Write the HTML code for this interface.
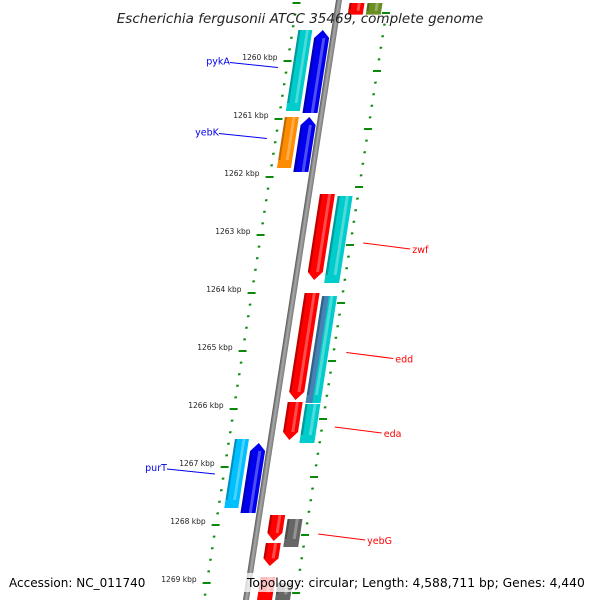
<!DOCTYPE html>
<html><head><meta charset="utf-8"><style>
html,body{margin:0;padding:0;background:#fff;overflow:hidden;}
svg{display:block;font-family:"DejaVu Sans","Liberation Sans",sans-serif;}
</style></head><body>
<svg id="chart" width="600" height="600" viewBox="0 0 600 600">
<defs>
<linearGradient id="bb" x1="0" x2="1" y1="0" y2="0"><stop offset="0" stop-color="#555"/><stop offset="0.5" stop-color="#aaa"/><stop offset="1" stop-color="#777"/></linearGradient>
</defs>
<g id="skew" transform="matrix(1,0,-0.155,1,339,0)"></g>
<g id="labels"></g>
<text x="300" y="23" text-anchor="middle" font-size="13.5" font-style="italic" fill="#222">Escherichia fergusonii ATCC 35469, complete genome</text>
<rect x="4" y="573" width="142" height="19" fill="#fff" opacity="0.75"/>
<text x="9" y="587" font-size="12" fill="#000">Accession: NC_011740</text>
<rect x="244" y="573" width="352" height="19" fill="#fff" opacity="0.75"/>
<text x="247" y="587" font-size="12.3" fill="#000">Topology: circular; Length: 4,588,711 bp; Genes: 4,440</text>
</svg>
<script>
const geneNames=["top-red","top-olive","pykA-cyan","pykA","yebK","yebK-blue","zwf","zwf-cyan","edd","edd-cyan","eda","eda-cyan","purT-cyan","purT","yebG","yebG-gray","yebG-red2","bottom-red","bottom-gray"];
const geneStart=[1259.0,1259.0,1259.466,1259.466,1260.966,1260.966,1262.293,1262.328,1264.0,1264.052,1265.879,1265.914,1266.517,1266.586,1267.828,1267.897,1268.31,1268.897,1269.0];
const geneEnd=[1259.2,1259.2,1260.862,1260.897,1261.845,1261.914,1263.776,1263.828,1265.845,1265.897,1266.534,1266.586,1267.707,1267.793,1268.276,1268.379,1268.707,1269.5,1269.5];
const geneLane=["R1","R2","L2","L1","L2","L1","R1","R2","R1","R2","R1","R2","L2","L1","R1","R2","R1","R1","R2"];
const geneDir=[0,0,0,1,0,1,-1,0,-1,0,-1,0,0,1,-1,0,-1,0,0];
const geneColor=["#ff0000","#6b8e23","#00cccc","#0000ee","#ff8c00","#0000ee","#ff0000","#00cccc","#ff0000","#00cccc","#ff0000","#00cccc","#00bfff","#0000ee","#ff0000","#666666","#ff0000","#ff0000","#666666"];
const geneLabels=["pykA","yebK","zwf","edd","eda","purT","yebG"];
const labelGene=[3,4,6,8,10,13,14];
const labelColor=["#0000ee","#0000ee","#ff0000","#ff0000","#ff0000","#0000ee","#ff0000"];
const tickKbp=[1260,1261,1262,1263,1264,1265,1266,1267,1268,1269];

const NS="http://www.w3.org/2000/svg";
const Y=k=>61+(k-1260)*58;
const BX=y=>339-0.155*y;
const laneX={L2:[-36,-22],L1:[-19,-4],R1:[11,26],R2:[29,44]};
const sk=document.getElementById('skew'), lb=document.getElementById('labels');
function mk(tag,attrs,parent){const e=document.createElementNS(NS,tag);for(const k in attrs)e.setAttribute(k,attrs[k]);parent.appendChild(e);return e;}

const bb=mk('rect',{x:-3,y:-20,width:6,height:640,fill:'url(#bb)'},sk);



for(let k=1259;k<=1269.9;k+=0.2){
  const y=Y(k);const major=Math.abs(k-Math.round(k))<0.01;
  const d=mk('rect',{x:major?-46:-43,y:y-1,width:major?8:2.5,height:2,fill:'#0a8a0a'},sk);
  
  
  const y2=y+10;
  const d2=mk('rect',{x:major?45:48,y:y2-1,width:major?8:2.5,height:2,fill:'#0a8a0a'},sk);
  
  
}

geneNames.forEach((n,i)=>{
  const y0=Y(geneStart[i]),y1=Math.min(Y(geneEnd[i]),600);const [a,b]=laneX[geneLane[i]];
  const w=b-a,h=Math.min(8,(y1-y0)/3);let pts;
  if(geneDir[i]===1) pts=`${a},${y0+h} ${(a+b)/2},${y0} ${b},${y0+h} ${b},${y1} ${a},${y1}`;
  else if(geneDir[i]===-1) pts=`${a},${y0} ${b},${y0} ${b},${y1-h} ${(a+b)/2},${y1} ${a},${y1-h}`;
  else pts=`${a},${y0} ${b},${y0} ${b},${y1} ${a},${y1}`;
  const p=mk('polygon',{points:pts,fill:geneColor[i]},sk);
  
  
  if(n==='edd-cyan'){const s=mk('rect',{x:a,y:y0,width:w*0.45,height:y1-y0,fill:'#4682b4'},sk);
    
    }
  const hl=mk('rect',{x:a+w*0.55,y:y0+(geneDir[i]===1?h:0),width:w*0.2,height:Math.max(0,y1-y0-h),fill:'#fff',opacity:0.3},sk);
  
  
  const sh=mk('rect',{x:a,y:y0+(geneDir[i]===1?h:0),width:w*0.15,height:Math.max(0,y1-y0-h),fill:'#000',opacity:0.25},sk);
  
  
});

tickKbp.forEach(k=>{
  const y=Y(k);const t=mk('text',{x:BX(y)-52,y:y-1,'text-anchor':'end','font-size':7.5,fill:'#222'},lb);
  t.textContent=k+' kbp';
  
  
});

geneLabels.forEach((n,j)=>{
  const i=labelGene[j];const ym=(Y(geneStart[i])+Y(geneEnd[i]))/2;
  const left=geneLane[i][0]==='L';const bx=BX(ym);
  let x1,y1,x2,y2,tx,ty;
  if(left){x1=bx-98;y1=ym-9;x2=bx-50;y2=ym-4;tx=x1;ty=ym-7;}
  else{x1=bx+61;y1=ym+6;x2=bx+108;y2=ym+12;tx=x2+2;ty=ym+16;}
  const l=mk('line',{x1:x1,y1:y1,x2:x2,y2:y2,stroke:labelColor[j],'stroke-width':1},lb);
  
  
  const t=mk('text',{x:tx,y:ty,'text-anchor':left?'end':'start','font-size':9.5,fill:labelColor[j]},lb);
  t.textContent=n;
  
  
});
</script>
</body></html>
